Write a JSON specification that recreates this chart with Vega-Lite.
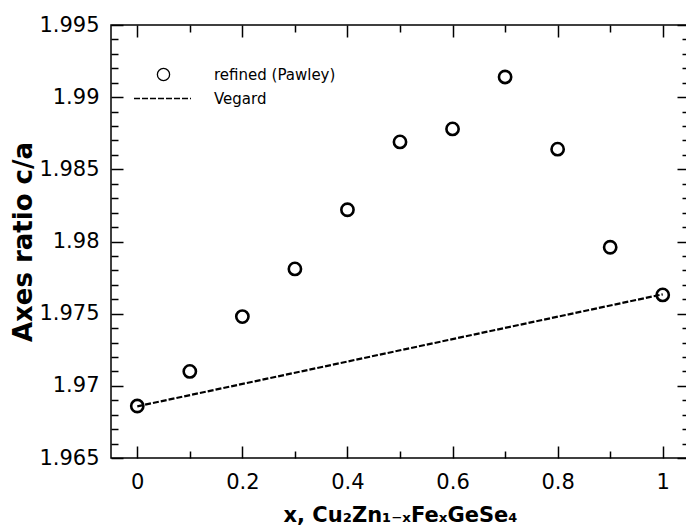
{
  "$schema": "https://vega.github.io/schema/vega-lite/v6.json",
  "width": 578,
  "height": 433,
  "autosize": "none",
  "padding": {"left": 111, "top": 25, "right": 0, "bottom": 72},
  "background": "white",
  "config": {
    "view": {"stroke": "black", "strokeWidth": 1.5},
    "font": "DejaVu Sans",
    "axis": {"domain": false, "grid": false, "tickColor": "black", "tickWidth": 1.5, "labelColor": "black", "labelFont": "DejaVu Sans", "labelFontSize": 21, "titleFont": "DejaVu Sans", "titleColor": "black"}
  },
  "datasets": {
    "pts": [
      {"x": 0.0, "ca": 1.9686, "s": "refined (Pawley)"},
      {"x": 0.1, "ca": 1.9710, "s": "refined (Pawley)"},
      {"x": 0.2, "ca": 1.9748, "s": "refined (Pawley)"},
      {"x": 0.3, "ca": 1.9781, "s": "refined (Pawley)"},
      {"x": 0.4, "ca": 1.9822, "s": "refined (Pawley)"},
      {"x": 0.5, "ca": 1.9869, "s": "refined (Pawley)"},
      {"x": 0.6, "ca": 1.9878, "s": "refined (Pawley)"},
      {"x": 0.7, "ca": 1.9914, "s": "refined (Pawley)"},
      {"x": 0.8, "ca": 1.9864, "s": "refined (Pawley)"},
      {"x": 0.9, "ca": 1.9796, "s": "refined (Pawley)"},
      {"x": 1.0, "ca": 1.9763, "s": "refined (Pawley)"}
    ],
    "veg": [
      {"x": 0.0, "ca": 1.96858, "s": "Vegard"},
      {"x": 1.0, "ca": 1.97634, "s": "Vegard"}
    ]
  },
  "resolve": {"axis": {"x": "independent", "y": "independent"}},
  "layer": [
    {
      "data": {"name": "veg"},
      "mark": {"type": "line", "color": "black", "strokeWidth": 2.2},
      "encoding": {
        "x": {"field": "x", "type": "quantitative", "scale": {"domain": [-0.05, 1.05], "nice": false, "zero": false},
          "axis": {"orient": "bottom", "values": [0.1, 0.3, 0.5, 0.7, 0.9], "tickSize": -7, "labels": false, "title": null}},
        "y": {"field": "ca", "type": "quantitative", "scale": {"domain": [1.965, 1.995], "nice": false, "zero": false},
          "axis": {"orient": "left", "values": [1.966, 1.967, 1.968, 1.969, 1.971, 1.972, 1.973, 1.974, 1.976, 1.977, 1.978, 1.979, 1.981, 1.982, 1.983, 1.984, 1.986, 1.987, 1.988, 1.989, 1.991, 1.992, 1.993, 1.994], "tickSize": -7, "labels": false, "title": null}},
        "strokeDash": {"field": "s", "type": "nominal", "scale": {"range": [[6, 2]]},
          "legend": {"orient": "none", "legendX": 22, "legendY": 44, "title": null, "symbolType": "stroke", "symbolSize": 3249, "symbolDash": [5, 4], "symbolStrokeWidth": 1.3, "symbolStrokeColor": "black", "labelOffset": 22, "labelFontSize": 15, "labelFont": "DejaVu Sans", "labelColor": "black", "padding": 0}}
      }
    },
    {
      "data": {"name": "pts"},
      "mark": {"type": "point", "shape": "circle", "filled": false, "color": "black", "strokeWidth": 2.6, "size": 150, "opacity": 1},
      "encoding": {
        "x": {"field": "x", "type": "quantitative",
          "axis": {"orient": "bottom", "values": [0, 0.2, 0.4, 0.6, 0.8, 1], "tickSize": -12, "labelPadding": 25, "labelExpr": "format(datum.value, '~g')", "title": "x, Cu₂Zn₁₋ₓFeₓGeSe₄", "titleFontSize": 21, "titleFontWeight": "bold", "titlePadding": 12}},
        "y": {"field": "ca", "type": "quantitative",
          "axis": {"orient": "left", "values": [1.965, 1.97, 1.975, 1.98, 1.985, 1.99, 1.995], "tickSize": -12, "labelPadding": 24, "labelExpr": "format(datum.value, '~g')", "title": "Axes ratio c/a", "titleFontSize": 26, "titleFontWeight": "bold", "titlePadding": 2}},
        "shape": {"field": "s", "type": "nominal", "scale": {"range": ["circle"]},
          "legend": {"orient": "none", "legendX": 45, "legendY": 42, "title": null, "symbolSize": 150, "symbolFillColor": "transparent", "symbolStrokeColor": "black", "symbolStrokeWidth": 1.3, "labelOffset": 43, "labelFontSize": 15, "labelFont": "DejaVu Sans", "labelColor": "black", "padding": 0}}
      }
    },
    {
      "data": {"name": "pts"},
      "mark": {"type": "point", "opacity": 0},
      "encoding": {
        "x": {"field": "x", "type": "quantitative",
          "axis": {"orient": "top", "values": [0, 0.2, 0.4, 0.6, 0.8, 1], "tickSize": -12, "labels": false, "title": null}},
        "y": {"field": "ca", "type": "quantitative",
          "axis": {"orient": "right", "values": [1.965, 1.97, 1.975, 1.98, 1.985, 1.99, 1.995], "tickSize": -12, "labels": false, "title": null}}
      }
    },
    {
      "data": {"name": "pts"},
      "mark": {"type": "point", "opacity": 0},
      "encoding": {
        "x": {"field": "x", "type": "quantitative",
          "axis": {"orient": "top", "values": [0.1, 0.3, 0.5, 0.7, 0.9], "tickSize": -7, "labels": false, "title": null}},
        "y": {"field": "ca", "type": "quantitative",
          "axis": {"orient": "right", "values": [1.966, 1.967, 1.968, 1.969, 1.971, 1.972, 1.973, 1.974, 1.976, 1.977, 1.978, 1.979, 1.981, 1.982, 1.983, 1.984, 1.986, 1.987, 1.988, 1.989, 1.991, 1.992, 1.993, 1.994], "tickSize": -7, "labels": false, "title": null}}
      }
    }
  ]
}
